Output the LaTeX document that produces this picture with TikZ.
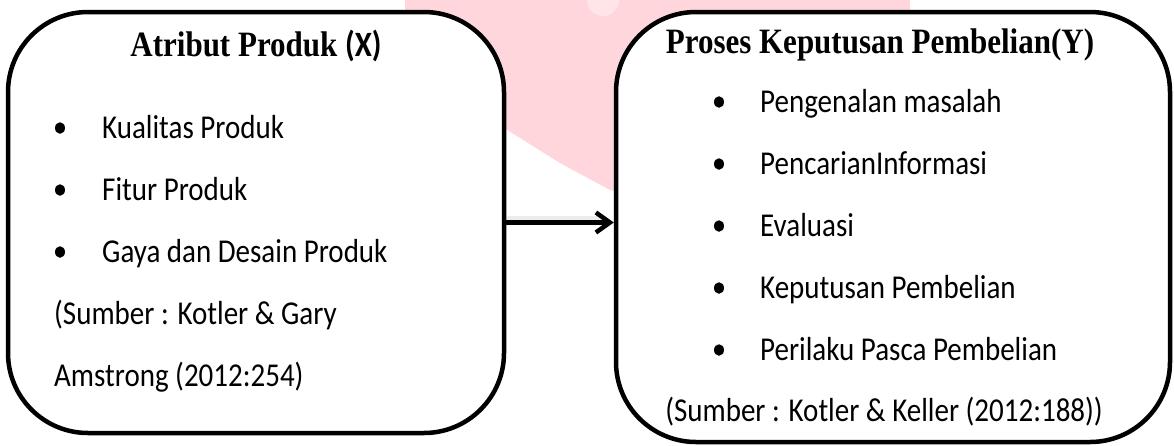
\documentclass[tikz,border=0pt]{standalone}
\usepackage{fontspec}
\setmainfont{Carlito}
\newfontfamily\timesfont{Liberation Serif}
\usetikzlibrary{arrows.meta,shapes.geometric}
\definecolor{wmpink}{RGB}{255,214,220}
% text is set slightly taller than the font's own proportions
\newcommand{\tall}[1]{\scalebox{1}[1.15]{#1}}

\begin{document}
\begin{tikzpicture}[x=1pt,y=-1pt,
  frame/.style={draw=black, line width=4.5pt, rounded corners=80pt, fill=white, inner sep=0pt},
  item/.style={anchor=base west, inner sep=0pt, font=\fontsize{29}{35}\selectfont},
  head/.style={anchor=base, inner sep=0pt, font=\fontsize{31}{37}\selectfont},
  dot/.style={ellipse, fill=black, inner sep=0pt, minimum width=10pt, minimum height=11.5pt},
  link/.style={line width=4.5pt, -{Straight Barb[length=14pt,width=20pt]}}]
\useasboundingbox (0,0) rectangle (1174,445);

% faded logo behind the boxes
\fill[wmpink] (405,0) -- (910,0) -- (910,60) -- (660,200) -- (610,190)
  -- (560,163) -- (504,128) -- (405,80) -- cycle;
\fill[white, opacity=0.35] (603,0) ellipse (16pt and 16pt);

% boxes
\node[frame, minimum width=496pt, minimum height=421pt] (atr) at (256,222.5) {};
\node[frame, minimum width=554pt, minimum height=430pt] (kep) at (893,227) {};

% box X
\node[head] (tx) at (256,56) {\tall{{\timesfont\bfseries Atribut Produk }\textbf{(X)}}};
\node[dot] (bx1) at (60,128) {};
\node[dot] (bx2) at (60,190) {};
\node[dot] (bx3) at (60,252) {};
\node[item] (x1) at (102,138) {\tall{Kualitas Produk}};
\node[item] (x2) at (102,200) {\tall{Fitur Produk}};
\node[item] (x3) at (102,262) {\tall{Gaya dan Desain Produk}};
\node[item] (x4) at (54,324) {\tall{(Sumber : Kotler \& Gary}};
\node[item] (x5) at (54,386) {\tall{Amstrong (2012:254)}};

% box Y
\node[head] (ty) at (880,53) {\tall{\timesfont\bfseries Proses Keputusan Pembelian(Y)}};
\node[dot] (by1) at (719,102) {};
\node[dot] (by2) at (719,164) {};
\node[dot] (by3) at (719,226) {};
\node[dot] (by4) at (719,288) {};
\node[dot] (by5) at (719,350) {};
\node[item] (y1) at (760,112) {\tall{Pengenalan masalah}};
\node[item] (y2) at (760,174) {\tall{PencarianInformasi}};
\node[item] (y3) at (760,236) {\tall{Evaluasi}};
\node[item] (y4) at (760,298) {\tall{Keputusan Pembelian}};
\node[item] (y5) at (760,360) {\tall{Perilaku Pasca Pembelian}};
\node[item, anchor=base] (y6) at (884,421) {\tall{(Sumber : Kotler \& Keller (2012:188))}};

% connector with its soft shadow
\coordinate (tip) at (atr.east -| kep.west);
\draw[line width=5pt, gray, opacity=0.15] ([yshift=4pt]atr.east) -- ([yshift=4pt,xshift=-8pt]tip);
\draw[link] (atr.east) -- (tip);
\end{tikzpicture}
\end{document}
